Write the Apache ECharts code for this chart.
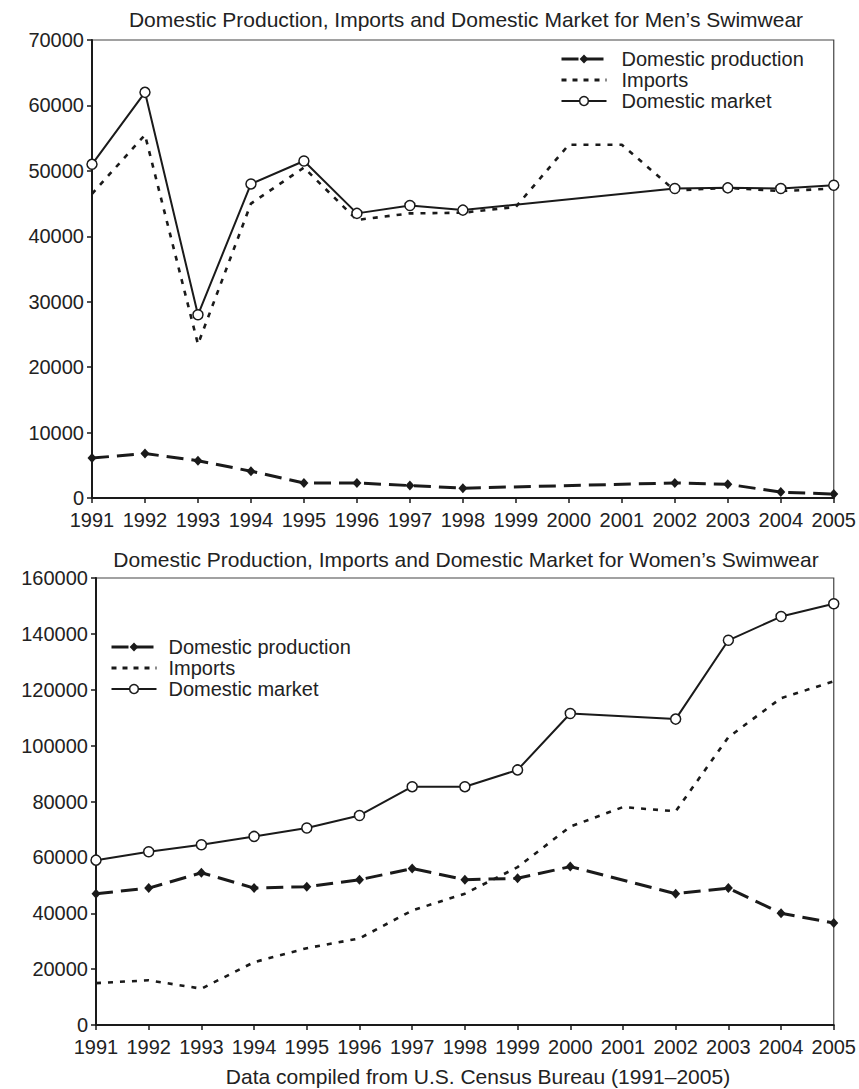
<!DOCTYPE html>
<html>
<head>
<meta charset="utf-8">
<script src="https://cdn.jsdelivr.net/npm/echarts@6/dist/echarts.min.js"></script>
<style>
html,body{margin:0;padding:0;background:#fff;}
#chart{width:859px;height:1089px;}
</style>
</head>
<body>
<div id="chart"></div>
<script>
const years = ['1991','1992','1993','1994','1995','1996','1997','1998','1999','2000','2001','2002','2003','2004','2005'];
const seriesNames = ['Domestic production','Imports','Domestic market'];

const menProduction = [6100, 6800, 5700, 4100, 2300, 2300, 1900, 1500, null, null, null, 2300, 2100, 900, 600];
const menImports    = [46500, 55500, 23500, 45000, 50500, 42500, 43500, 43600, 44500, 54000, 54000, 47000, 47400, 46900, 47300];
const menMarket     = [51000, 62000, 28000, 48000, 51500, 43500, 44700, 44000, null, null, null, 47300, 47400, 47300, 47800];

const womenProduction = [47000, 49000, 54500, 49000, 49500, 52000, 56000, 52000, 52500, 56700, null, 47000, 49000, 40000, 36500];
const womenImports    = [15000, 16000, 13000, 22500, 27500, 31000, 41000, 47000, 56500, 71000, 78000, 76500, 103000, 117000, 123000];
const womenMarket     = [59000, 62000, 64500, 67500, 70500, 75000, 85300, 85300, 91300, 111500, null, 109500, 137700, 146200, 150800];

const titleMen = 'Domestic Production, Imports and Domestic Market for Men\u2019s Swimwear';
const titleWomen = 'Domestic Production, Imports and Domestic Market for Women\u2019s Swimwear';
const caption = 'Data compiled from U.S. Census Bureau (1991\u20132005)';

const FONT = "'Liberation Sans', Arial, Helvetica, sans-serif";
const INK = '#1a1a1a';
const TXT = '#222';
const PROD_DASH = [17, 8];
const IMP_DASH = [5, 7];

const chart = echarts.init(document.getElementById('chart'), null, {renderer: 'svg'});

function xAxis(gridIndex) {
  return {
    type: 'category', gridIndex, data: years, boundaryGap: false,
    axisLine: {show: true, lineStyle: {color: INK, width: 2}},
    axisTick: {show: true, length: 5, lineStyle: {color: INK, width: 1.5}},
    axisLabel: {color: TXT, fontSize: 20, fontFamily: FONT, margin: 12, interval: 0},
    splitLine: {show: false}
  };
}
function yAxis(gridIndex, max, interval) {
  return {
    type: 'value', gridIndex, min: 0, max, interval,
    axisLine: {show: true, lineStyle: {color: INK, width: 2}},
    axisTick: {show: true, length: 5, lineStyle: {color: INK, width: 1.5}},
    axisLabel: {color: TXT, fontSize: 20, fontFamily: FONT, margin: 8, formatter: v => String(v)},
    splitLine: {show: false}
  };
}
function makeSeries(idx, prod, imp, mkt) {
  return [
    {
      name: seriesNames[0], type: 'line', xAxisIndex: idx, yAxisIndex: idx, data: prod,
      connectNulls: true, clip: false, symbol: 'diamond', symbolSize: [9, 10],
      lineStyle: {color: INK, width: 3, type: PROD_DASH},
      itemStyle: {color: INK}, z: 2
    },
    {
      name: seriesNames[1], type: 'line', xAxisIndex: idx, yAxisIndex: idx, data: imp,
      connectNulls: true, clip: false, symbol: 'none',
      lineStyle: {color: INK, width: 2.6, type: IMP_DASH},
      itemStyle: {color: INK}, z: 3
    },
    {
      name: seriesNames[2], type: 'line', xAxisIndex: idx, yAxisIndex: idx, data: mkt,
      connectNulls: true, clip: false, symbol: 'circle', symbolSize: 10,
      lineStyle: {color: INK, width: 2},
      itemStyle: {color: '#fff', borderColor: INK, borderWidth: 1.5}, z: 4
    }
  ];
}
function legend(left, top, pad) {
  return {
    orient: 'vertical', left, top, selectedMode: false,
    itemWidth: 45, itemHeight: 11, itemGap: 1,
    data: [
      {name: seriesNames[0], lineStyle: {color: INK, width: 3, type: PROD_DASH}, itemStyle: {color: INK}},
      {name: seriesNames[1], lineStyle: {color: INK, width: 3, type: [5, 6]}, itemStyle: {opacity: 0}},
      {name: seriesNames[2], lineStyle: {color: INK, width: 2, type: 'solid'}, itemStyle: {color: '#fff', borderColor: INK, borderWidth: 1.5}}
    ],
    textStyle: {color: TXT, fontSize: 20, fontFamily: FONT, padding: [0, 0, 0, pad]}
  };
}

const option = {
  backgroundColor: '#fff',
  animation: false,
  grid: [
    {left: 92, right: 25, top: 40, height: 458, show: true, borderColor: '#444', borderWidth: 1.2},
    {left: 96, right: 24, top: 578, height: 447, show: true, borderColor: '#444', borderWidth: 1.2}
  ],
  xAxis: [xAxis(0), xAxis(1)],
  yAxis: [yAxis(0, 70000, 10000), yAxis(1, 160000, 20000)],
  legend: [legend(555, 44, 10), legend(105, 632, 7)],
  graphic: [
    {type: 'text', x: 466, y: 19, style: {text: titleMen, font: '21px ' + FONT, fill: TXT, align: 'center', verticalAlign: 'middle'}},
    {type: 'text', x: 466, y: 559, style: {text: titleWomen, font: '21px ' + FONT, fill: TXT, align: 'center', verticalAlign: 'middle'}},
    {type: 'text', x: 478, y: 1076, style: {text: caption, font: '21px ' + FONT, fill: TXT, align: 'center', verticalAlign: 'middle'}}
  ],
  series: [].concat(makeSeries(0, menProduction, menImports, menMarket), makeSeries(1, womenProduction, womenImports, womenMarket))
};
chart.setOption(option);
</script>
</body>
</html>
